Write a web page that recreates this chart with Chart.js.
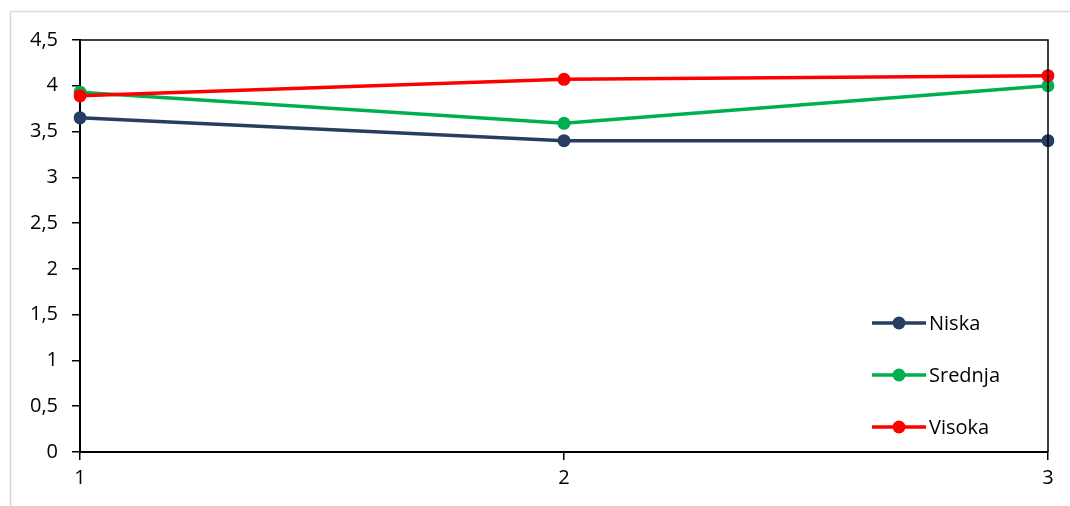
<!DOCTYPE html>
<html>
<head>
<meta charset="utf-8">
<script src="https://cdn.jsdelivr.net/npm/chart.js@4"></script>
<style>
  html, body { margin: 0; padding: 0; background: #fff; }
  #wrap { width: 1070px; height: 506px; }
</style>
</head>
<body>
<div id="wrap"><canvas id="chart"></canvas></div>
<script>
const categories = ['1', '2', '3'];
const niska = [3.65, 3.4, 3.4];
const srednja = [3.93, 3.59, 4.0];
const visoka = [3.89, 4.07, 4.11];
const seriesNames = ['Niska', 'Srednja', 'Visoka'];
const seriesColors = ['#263f61', '#00b050', '#ff0000'];

const FONT = '"Open Sans", "Noto Sans", sans-serif';

// frame, plot box and in-plot legend
const decorations = {
    id: 'decorations',
    beforeDraw(chart) {
        const ctx = chart.ctx;
        ctx.save();
        ctx.strokeStyle = '#d9d9d9';
        ctx.lineWidth = 1.5;
        ctx.strokeRect(10.5, 11.5, 1100, 600);
        ctx.restore();
    },
    afterDatasetsDraw(chart) {
        const ctx = chart.ctx;
        const a = chart.chartArea;
        ctx.save();
        ctx.strokeStyle = '#000';
        ctx.lineWidth = 1.5;
        ctx.beginPath();
        ctx.moveTo(a.left, a.top);
        ctx.lineTo(a.right, a.top);
        ctx.lineTo(a.right, a.bottom);
        ctx.stroke();

        // legend
        const x0 = 872, x1 = 926;
        let y = 323;
        ctx.font = '20px ' + FONT;
        ctx.textBaseline = 'middle';
        chart.data.datasets.forEach((ds) => {
            ctx.strokeStyle = ds.borderColor;
            ctx.lineWidth = 3.5;
            ctx.beginPath();
            ctx.moveTo(x0, y);
            ctx.lineTo(x1, y);
            ctx.stroke();
            ctx.fillStyle = ds.borderColor;
            ctx.beginPath();
            ctx.arc((x0 + x1) / 2, y, 6.5, 0, Math.PI * 2);
            ctx.fill();
            ctx.fillStyle = '#000';
            ctx.fillText(ds.label, x1 + 3, y + 1);
            y += 52;
        });
        ctx.restore();
    }
};

const values = [niska, srednja, visoka];
const datasets = values.map((data, i) => ({
    label: seriesNames[i],
    data: data,
    borderColor: seriesColors[i],
    backgroundColor: seriesColors[i],
    borderWidth: 3.5,
    pointRadius: 6.5,
    pointHoverRadius: 6.5,
    pointBorderWidth: 0,
    tension: 0,
    order: 3 - i
}));

new Chart(document.getElementById('chart'), {
    type: 'line',
    data: { labels: categories, datasets: datasets },
    options: {
        responsive: true,
        maintainAspectRatio: false,
        animation: false,
        layout: { padding: { left: 0, right: 22, top: 40, bottom: 0 } },
        plugins: {
            legend: { display: false },
            tooltip: { enabled: false }
        },
        scales: {
            x: {
                offset: false,
                grid: {
                    display: true,
                    drawOnChartArea: false,
                    tickLength: 8,
                    color: '#000',
                    lineWidth: 1.5
                },
                border: { color: '#000', width: 2 },
                ticks: {
                    color: '#000',
                    font: { family: FONT, size: 20 },
                    padding: 6,
                    maxRotation: 0
                },
                afterFit(scale) { scale.height = 54; }
            },
            y: {
                min: 0,
                max: 4.5,
                grid: {
                    display: true,
                    drawOnChartArea: false,
                    tickLength: 8,
                    color: '#000',
                    lineWidth: 1.5
                },
                border: { color: '#000', width: 2 },
                ticks: {
                    stepSize: 0.5,
                    color: '#000',
                    font: { family: FONT, size: 20 },
                    padding: 14,
                    callback: (v) => String(v).replace('.', ',')
                },
                afterFit(scale) { scale.width = 80; }
            }
        }
    },
    plugins: [decorations]
});
</script>
</body>
</html>
